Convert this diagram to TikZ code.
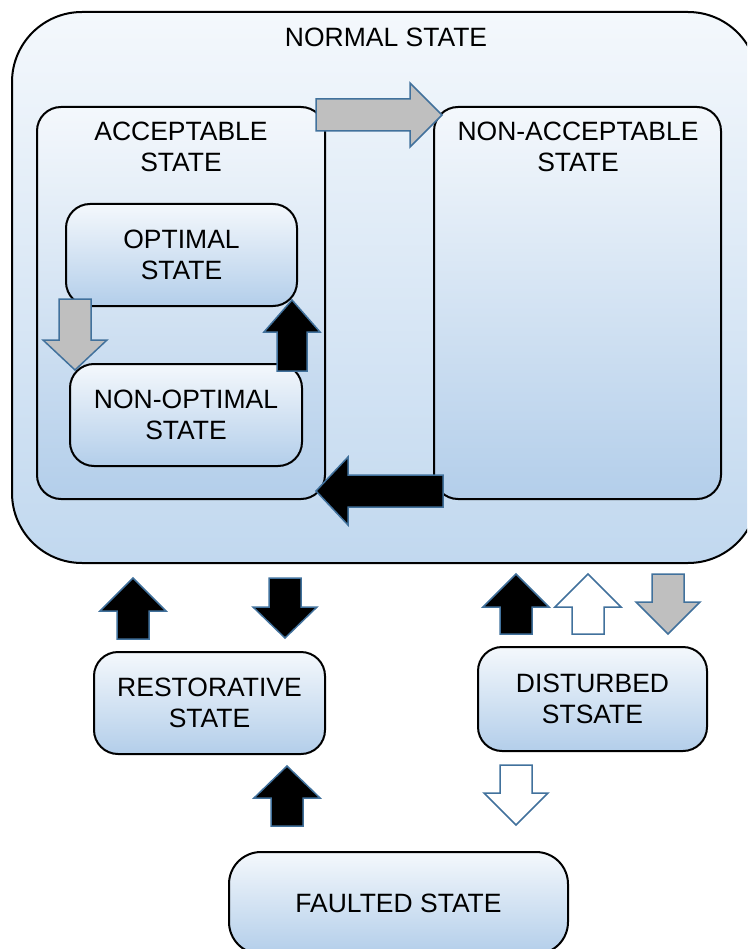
\documentclass[tikz,border=0pt]{standalone}
\usepackage{fontspec}
\setmainfont{Liberation Sans}
\definecolor{topc}{RGB}{244,248,252}
\definecolor{botc}{RGB}{179,206,234}
\definecolor{outbot}{RGB}{193,216,239}
\definecolor{abord}{RGB}{65,113,156}
\definecolor{agray}{RGB}{191,191,191}
\tikzset{
  statebox/.style={draw=black, line width=2pt, rounded corners=24pt, top color=topc, bottom color=botc, inner sep=0pt},
  lbl/.style={font=\fontsize{26.5}{31}\selectfont, align=center, inner sep=0pt, text=black},
  barrow/.style={draw=abord, line width=1.5pt, line join=miter},
}
\begin{document}
\begin{tikzpicture}[x=1pt,y=-1pt]
\useasboundingbox (0,0) rectangle (747,949);
\clip (0,0) rectangle (747,949);
% outer normal state
\node[statebox, rounded corners=70pt, minimum width=746pt, minimum height=551pt, bottom color=outbot] (normal) at (385,287.5) {};
\node[lbl] (normalL) at (386,37) {NORMAL STATE};
% acceptable and non-acceptable
\node[statebox, minimum width=288pt, minimum height=392pt] (acc) at (181,303) {};
\node[lbl] (accL) at (181,147) {ACCEPTABLE\\STATE};
\node[statebox, minimum width=287pt, minimum height=392pt] (nacc) at (577.5,303) {};
\node[lbl] (naccL) at (578,147) {NON-ACCEPTABLE\\STATE};
% optimal and non-optimal
\node[statebox, minimum width=231pt, minimum height=102pt, lbl] (opt) at (181.5,255) {OPTIMAL\\STATE};
\node[statebox, minimum width=232pt, minimum height=102pt, lbl] (nopt) at (186,415) {NON-OPTIMAL\\STATE};
% lower states
\node[statebox, minimum width=231pt, minimum height=102pt, lbl] (rest) at (209.5,703) {RESTORATIVE\\STATE};
\node[statebox, minimum width=229pt, minimum height=104pt, lbl] (dist) at (592.5,699) {DISTURBED\\STSATE};
\node[statebox, rounded corners=32pt, minimum width=339pt, minimum height=102pt, lbl] (fault) at (398.5,903) {FAULTED STATE};
% arrows inside normal state
\filldraw[barrow, fill=agray] (316,99) -- (410,99) -- (410,83) -- (442,115) -- (410,147) -- (410,131) -- (316,131) -- cycle;
\filldraw[barrow, fill=agray] (59,299) -- (91,299) -- (91,340) -- (107,340) -- (75,370) -- (43,340) -- (59,340) -- cycle;
\filldraw[barrow, fill=black] (277,371) -- (307,371) -- (307,332) -- (320,332) -- (292,300) -- (264,332) -- (277,332) -- cycle;
\filldraw[barrow, fill=black] (443,475) -- (348,475) -- (348,457) -- (316,491) -- (348,525) -- (348,507) -- (443,507) -- cycle;
% arrows below normal state
\filldraw[barrow, fill=black] (117,639) -- (149,639) -- (149,611) -- (166,611) -- (133,578) -- (100,611) -- (117,611) -- cycle;
\filldraw[barrow, fill=black] (269,578) -- (301,578) -- (301,607) -- (317,607) -- (285,638) -- (253,607) -- (269,607) -- cycle;
\filldraw[barrow, fill=black] (271,826) -- (303,826) -- (303,798) -- (320,798) -- (287,766) -- (254,798) -- (271,798) -- cycle;
\filldraw[barrow, fill=black] (500,634) -- (532,634) -- (532,607) -- (549,607) -- (516,574) -- (483,607) -- (500,607) -- cycle;
\filldraw[barrow, fill=white] (572,634) -- (604,634) -- (604,607) -- (621,607) -- (588,574) -- (555,607) -- (572,607) -- cycle;
\filldraw[barrow, fill=agray] (652,574) -- (684,574) -- (684,602) -- (700,602) -- (668,634) -- (636,602) -- (652,602) -- cycle;
\filldraw[barrow, fill=white] (500,765) -- (532,765) -- (532,793) -- (548,793) -- (516,825) -- (484,793) -- (500,793) -- cycle;
\end{tikzpicture}
\end{document}
